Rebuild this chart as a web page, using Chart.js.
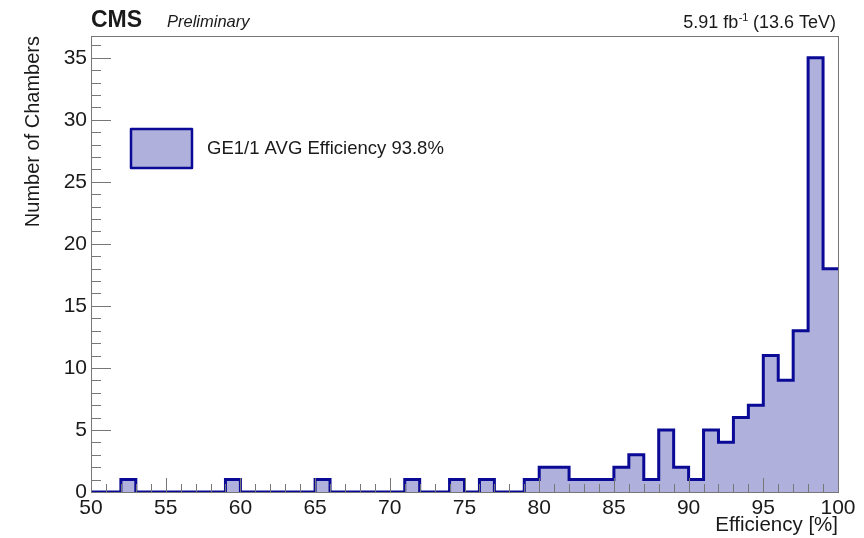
<!DOCTYPE html>
<html>
<head>
<meta charset="utf-8">
<script src="https://cdn.jsdelivr.net/npm/chart.js@4.4.1/dist/chart.umd.min.js"></script>
<style>
html,body{margin:0;padding:0;background:#ffffff;}
#wrap{width:864px;height:538px;position:relative;}
</style>
</head>
<body>
<div id="wrap"><canvas id="c" width="864" height="538"></canvas></div>
<script>
// ---- data ----
const binLowEdges = [50,51,52,53,54,55,56,57,58,59,60,61,62,63,64,65,66,67,68,69,70,71,72,73,74,75,76,77,78,79,80,81,82,83,84,85,86,87,88,89,90,91,92,93,94,95,96,97,98,99];
const binUpperEdge = 100;
const counts = [0,0,1,0,0,0,0,0,0,1, 0,0,0,0,0,1,0,0,0,0, 0,1,0,0,1,0,1,0,0,1, 2,2,1,1,1,2,3,1,5,2, 1,5,4,6,7,11,9,13,35,18];
const xTickLabels = ['50','55','60','65','70','75','80','85','90','95','100'];
const yTickLabels = ['0','5','10','15','20','25','30','35'];
const legendLabel = 'GE1/1 AVG Efficiency 93.8%';
const xTitle = 'Efficiency [%]';
const yTitle = 'Number of Chambers';
const expLabel = 'CMS';
const expSubLabel = 'Preliminary';
const lumiMain = '5.91 fb';
const lumiSup = '-1';
const lumiTail = ' (13.6 TeV)';

// ---- styles ----
const FONT = "'Liberation Sans', Arial, Helvetica, sans-serif";
const LINE = '#0a0a96';
const FILL = 'rgb(176,176,220)';
const FRAME = '#777777';
const TXT = '#1a1a1a';

const points = binLowEdges.map((x, i) => ({x: x, y: counts[i]}));
points.push({x: binUpperEdge, y: counts[counts.length - 1]});

const rootStyle = {
  id: 'rootStyle',
  beforeDatasetsDraw(chart) {
    const {ctx, chartArea: a} = chart;
    ctx.save();
    ctx.strokeStyle = FRAME;
    ctx.lineWidth = 1;
    ctx.strokeRect(Math.round(a.left) + 0.5, Math.round(a.top) + 0.5, Math.round(a.right - a.left), Math.round(a.bottom - a.top));
    ctx.restore();
  },
  afterDatasetsDraw(chart) {
    const {ctx, chartArea: a, scales} = chart;
    const xs = scales.x, ys = scales.y;
    ctx.save();
    ctx.strokeStyle = FRAME;
    ctx.lineWidth = 1;
    ctx.beginPath();
    for (let v = Math.ceil(xs.min); v <= xs.max; v += 1) {
      const px = Math.round(xs.getPixelForValue(v)) + 0.5;
      const len = (v % 5 === 0) ? 14 : 8;
      ctx.moveTo(px, a.bottom);
      ctx.lineTo(px, a.bottom - len);
    }
    for (let v = Math.ceil(ys.min); v <= ys.max; v += 1) {
      const py = Math.round(ys.getPixelForValue(v)) + 0.5;
      const len = (v % 5 === 0) ? 20 : 10;
      ctx.moveTo(a.left, py);
      ctx.lineTo(a.left + len, py);
    }
    ctx.stroke();
    const L = Math.round(a.left) + 0.5, R = Math.round(a.right) + 0.5, T = Math.round(a.top) + 0.5;
    ctx.beginPath();
    ctx.moveTo(L, a.bottom); ctx.lineTo(L, T); ctx.lineTo(R, T); ctx.lineTo(R, a.bottom);
    ctx.stroke();
    ctx.restore();
  },
  afterDraw(chart) {
    const {ctx, chartArea: a} = chart;
    ctx.save();
    ctx.fillStyle = TXT;
    ctx.textBaseline = 'alphabetic';
    ctx.textAlign = 'left';
    ctx.font = 'bold 23px ' + FONT;
    ctx.fillText(expLabel, a.left, 27);
    ctx.font = 'italic 16.5px ' + FONT;
    ctx.fillText(expSubLabel, 167, 27);
    ctx.font = '18px ' + FONT;
    const wMain = ctx.measureText(lumiMain).width;
    const wTail = ctx.measureText(lumiTail).width;
    ctx.font = '11px ' + FONT;
    const wSup = ctx.measureText(lumiSup).width;
    const xEnd = 836;
    let x0 = xEnd - wTail - wSup - wMain;
    ctx.font = '18px ' + FONT;
    ctx.fillText(lumiMain, x0, 28);
    ctx.font = '11px ' + FONT;
    ctx.fillText(lumiSup, x0 + wMain + 0.5, 21);
    ctx.font = '18px ' + FONT;
    ctx.fillText(lumiTail, x0 + wMain + wSup, 28);
    ctx.fillStyle = FILL;
    ctx.fillRect(131, 129, 61, 39);
    ctx.strokeStyle = LINE;
    ctx.lineWidth = 2.5;
    ctx.lineJoin = 'round';
    ctx.strokeRect(131, 129, 61, 39);
    ctx.fillStyle = TXT;
    ctx.font = '18.5px ' + FONT;
    ctx.textBaseline = 'middle';
    ctx.fillText(legendLabel, 207, 149);
    ctx.restore();
  }
};

new Chart(document.getElementById('c'), {
  type: 'line',
  data: {
    datasets: [{
      label: legendLabel,
      data: points,
      stepped: 'before',
      borderColor: LINE,
      borderWidth: 3,
      borderJoinStyle: 'miter',
      backgroundColor: FILL,
      fill: 'origin',
      pointRadius: 0,
      pointHoverRadius: 0,
      tension: 0
    }]
  },
  options: {
    responsive: false,
    animation: false,
    events: [],
    layout: {padding: {left: 10, right: 26, top: 36, bottom: 0}},
    plugins: {legend: {display: false}, tooltip: {enabled: false}, title: {display: false}},
    scales: {
      x: {
        type: 'linear',
        min: 50,
        max: 100,
        grid: {display: false, drawTicks: false},
        border: {display: false},
        ticks: {
          stepSize: 5,
          padding: 4,
          color: TXT,
          font: {family: FONT, size: 21},
          maxRotation: 0,
          autoSkip: false,
          callback: (v) => xTickLabels.includes(String(v)) ? String(v) : ''
        },
        title: {display: true, text: xTitle, align: 'end', color: TXT, font: {family: FONT, size: 20.5}, padding: {top: 0, bottom: 0}},
        afterFit: (s) => { s.height = 46; }
      },
      y: {
        type: 'linear',
        min: 0,
        max: 36.75,
        grid: {display: false, drawTicks: false},
        border: {display: false},
        ticks: {
          stepSize: 5,
          includeBounds: false,
          padding: 4,
          color: TXT,
          font: {family: FONT, size: 21},
          callback: (v) => yTickLabels.includes(String(v)) ? String(v) : ''
        },
        title: {display: true, text: yTitle, align: 'end', color: TXT, font: {family: FONT, size: 20}, padding: {top: 11, bottom: 0}},
        afterFit: (s) => { s.width = 81; }
      }
    }
  },
  plugins: [rootStyle]
});
</script>
</body>
</html>
